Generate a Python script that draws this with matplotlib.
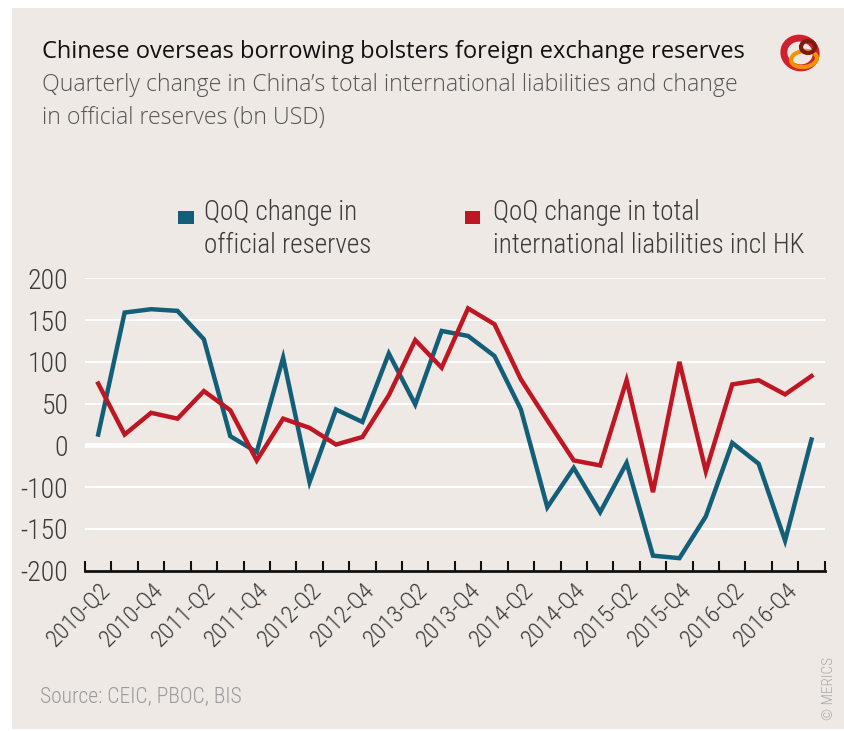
import matplotlib
matplotlib.use("Agg")
import matplotlib.pyplot as plt
from matplotlib.patches import Rectangle, Ellipse
from matplotlib import font_manager
import numpy as np

# ---------------- data ----------------
quarters = [f"{y}-Q{q}" for y in range(2010, 2018) for q in range(1, 5)][1:29]  # 2010-Q2 .. 2017-Q1
reserves = [13, 159, 163, 161, 127, 11, -8, 105, -44, 43, 28, 110, 49,
            137, 131, 107, 43, -74, -27, -80, -21, -132, -135, -85, 3, -22, -114, 7]
liabilities = [74, 13, 39, 32, 65, 42, -18, 32, 21, 1, 10, 60, 126,
               93, 164, 145, 79, 30, -18, -24, 78, -56, 100, -31, 73, 78, 61, 83]
ytick_pos = [200, 150, 100, 50, 0, -50, -100, -150]
ytick_labels = ["200", "150", "100", "50", "0", "-100", "-150", "-200"]
series_names = ["QoQ change in\nofficial reserves",
                "QoQ change in total\ninternational liabilities incl HK"]

BLUE = "#135E78"
RED = "#BE1622"
BG = "#EEE9E5"
TXT = "#3a3a3a"

avail = {f.name for f in font_manager.fontManager.ttflist}
NARROW = next((f for f in ["Roboto Condensed", "Liberation Sans Narrow", "Roboto"] if f in avail), "DejaVu Sans")

W, H = 845, 731
fig = plt.figure(figsize=(W / 100, H / 100), dpi=100)
fig.patch.set_facecolor("white")
fig.add_artist(Rectangle((12 / W, 1 - 729 / H), (W - 12) / W, (729 - 8) / H,
                         transform=fig.transFigure, facecolor=BG, edgecolor="none", zorder=-10))

ax = fig.add_axes([85 / W, 1 - 570.7 / H, (824.7 - 85) / W, (570.7 - 278.3) / H])
ax.patch.set_alpha(0)

n = len(quarters)
x = np.arange(n)
ax.set_xlim(-0.5, n - 0.5)
ax.set_ylim(-150, 200)

for v in ytick_pos:
    if v == -150:
        continue
    ax.axhline(v, color="white", lw=3.5 if v == 0 else 1.5, zorder=1)

ax.plot(x, reserves, color=BLUE, lw=3.2, zorder=3, solid_joinstyle="miter")
ax.plot(x, liabilities, color=RED, lw=3.2, zorder=3, solid_joinstyle="miter")

for s in ["top", "right", "left"]:
    ax.spines[s].set_visible(False)
ax.spines["bottom"].set_color("#111111")
ax.spines["bottom"].set_linewidth(2)
ax.spines["bottom"].set_zorder(4)

ax.set_yticks(ytick_pos)
ax.set_yticklabels(ytick_labels)
ax.tick_params(axis="y", length=0, pad=12, labelsize=20, labelcolor=TXT)
for t in ax.get_yticklabels():
    t.set_fontfamily(NARROW)
    t.set_fontweight("light")

ax.set_xticks(np.arange(-0.5, n, 1.0), minor=True)
ax.set_xticks(x[::2])
ax.set_xticklabels(quarters[::2])
ax.tick_params(axis="x", which="major", length=0, pad=5, labelsize=17.5, labelcolor=TXT)
ax.tick_params(axis="x", which="minor", direction="in", length=7, width=1.5, color="#111111")
for t in ax.get_xticklabels():
    t.set_rotation(45)
    t.set_ha("right")
    t.set_va("top")
    t.set_rotation_mode("anchor")
    t.set_fontfamily(NARROW)
    t.set_fontweight("light")

# ---------------- texts ----------------
fig.text(42 / W, 1 - 58 / H, "Chinese overseas borrowing bolsters foreign exchange reserves",
         fontsize=17, color="#111111", family="Open Sans", ha="left", va="baseline")
fig.text(42 / W, 1 - 91 / H, "Quarterly change in China’s total international liabilities and change",
         fontsize=16.7, color="#555555", family="Open Sans", ha="left", va="baseline", fontweight="light")
fig.text(42 / W, 1 - 124 / H, "in official reserves (bn USD)",
         fontsize=16.7, color="#555555", family="Open Sans", ha="left", va="baseline", fontweight="light")

for (sx, tx, col, lab) in [(178.5, 204.5, BLUE, series_names[0]), (465, 493, RED, series_names[1])]:
    fig.add_artist(Rectangle((sx / W, 1 - 224 / H), 15.5 / W, 13 / H, transform=fig.transFigure,
                             facecolor=col, edgecolor="none"))
    fig.text(tx / W, 1 - 199 / H, lab, fontsize=19.5, color=TXT, family=NARROW, fontweight="light",
             ha="left", va="top", linespacing=1.3)

fig.text(40 / W, 1 - 697 / H, "Source: CEIC, PBOC, BIS", fontsize=15.5, color="#9a9a9a",
         family=NARROW, fontweight="light", ha="left", va="center")
fig.text(829 / W, 1 - 689 / H, "© MERICS", fontsize=11, color="#aaaaaa", rotation=90,
         family=NARROW, fontweight="light", ha="center", va="center")

# logo approximation
lx, ly = 800 / W, 1 - 53 / H
fig.add_artist(Ellipse((lx, ly), 32 / W, 30 / H, angle=20, transform=fig.transFigure,
                       facecolor="none", edgecolor="#D0202E", lw=5))
fig.add_artist(Ellipse((lx + 4 / W, ly - 6 / H), 26 / W, 16 / H, angle=10, transform=fig.transFigure,
                       facecolor="none", edgecolor="#F39200", lw=3))
fig.add_artist(Ellipse((lx + 8 / W, ly + 6 / H), 14 / W, 12 / H, angle=0, transform=fig.transFigure,
                       facecolor="none", edgecolor="#7A1C0E", lw=3))

fig.savefig("out.png", dpi=100, facecolor=fig.get_facecolor())
